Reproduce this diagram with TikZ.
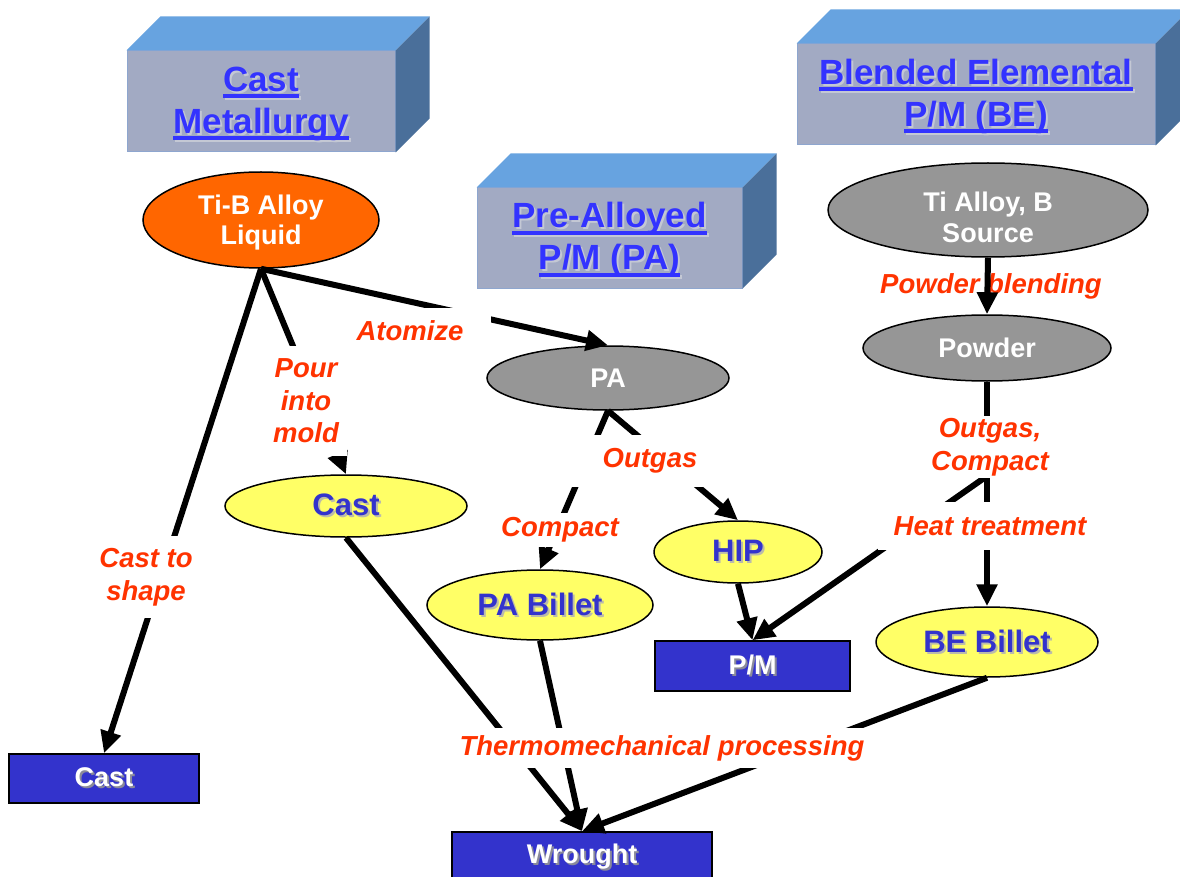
\documentclass[tikz,border=0pt]{standalone}
\usepackage{fontspec}
\setmainfont{Liberation Sans}
\usetikzlibrary{shapes.geometric,arrows.meta}

\definecolor{hdrtext}{HTML}{3333FF}
\definecolor{hdrface}{HTML}{A2AAC3}
\definecolor{hdrtop}{HTML}{67A3E0}
\definecolor{hdrside}{HTML}{4A6F9A}
\definecolor{hdredge}{HTML}{8EA6CF}
\definecolor{orangefill}{HTML}{FF6600}
\definecolor{grayfill}{HTML}{969696}
\definecolor{yellowfill}{HTML}{FFFF66}
\definecolor{bluefill}{HTML}{3333CC}
\definecolor{bluetext}{HTML}{3333CC}
\definecolor{redlabel}{HTML}{FF3300}
\definecolor{shdhdr}{HTML}{C4C8D4}
\definecolor{shdyel}{HTML}{BBBBAA}
\definecolor{shdblue}{HTML}{8A8A9A}

\newcommand\ulin[1]{\setbox0=\hbox{#1}\rlap{\rule[-7pt]{\wd0}{4pt}}\box0}
\newcommand\shd[3]{\makebox[0pt][l]{\hspace{2pt}\raisebox{-2pt}{\color{#1}#3}}{\color{#2}#3}}

\begin{document}
\begin{tikzpicture}[x=1pt,y=-1pt,
  hdr/.style={rectangle, fill=hdrface, draw=hdredge, line width=1pt, inner sep=0, align=center,
    font=\fontsize{35}{42}\selectfont\bfseries},
  ellbase/.style={ellipse, draw=black, line width=1.5pt, inner sep=0, align=center},
  orangeell/.style={ellbase, fill=orangefill, text=white, font=\fontsize{27}{30}\selectfont\bfseries},
  grayell/.style={ellbase, fill=grayfill, text=white, font=\fontsize{27}{31}\selectfont\bfseries},
  yellowell/.style={ellbase, fill=yellowfill, font=\fontsize{31}{36}\selectfont\bfseries},
  bluebox/.style={rectangle, draw=black, line width=1.5pt, fill=bluefill, inner sep=0,
    font=\fontsize{27}{32}\selectfont\bfseries},
  lbl/.style={text=redlabel, font=\fontsize{27.5}{32.5}\selectfont\bfseries\itshape, align=center, inner sep=0},
  conn/.style={line width=6pt, -{Triangle[length=22pt,width=20pt]}},
  topface/.style={fill=hdrtop},
  sideface/.style={fill=hdrside}
]
\useasboundingbox (0,0) rectangle (1180,877);
\clip (0,0) rectangle (1180,877);
\fill[white] (0,0) rectangle (1180,877);

% ---- header boxes ----
\node[hdr, minimum width=268, minimum height=101] (h1) at (261,101.5)
  {\rule{0pt}{31pt}\shd{shdhdr}{hdrtext}{\ulin{Cast}}\\\shd{shdhdr}{hdrtext}{\ulin{Metallurgy}}};
\node[hdr, minimum width=265, minimum height=100] (h2) at (609.5,238)
  {\rule{0pt}{31pt}\shd{shdhdr}{hdrtext}{\ulin{Pre-Alloyed}}\\\shd{shdhdr}{hdrtext}{\ulin{P/M (PA)}}};
\node[hdr, minimum width=358, minimum height=101] (h3) at (976,94.5)
  {\rule{0pt}{31pt}\shd{shdhdr}{hdrtext}{\ulin{Blended Elemental}}\\\shd{shdhdr}{hdrtext}{\ulin{P/M (BE)}}};
\foreach \h in {h1,h2,h3}{
  \fill[topface] (\h.north west) -- ++(34,-34) -- ([shift={(34,-34)}]\h.north east) -- (\h.north east) -- cycle;
  \fill[sideface] (\h.north east) -- ++(34,-34) -- ([shift={(34,-34)}]\h.south east) -- (\h.south east) -- cycle;
}

% ---- ellipses ----
\node[orangeell, minimum width=236, minimum height=96] (tib) at (261,220) {\rule{0pt}{24pt}Ti-B Alloy\\Liquid};
\node[grayell, minimum width=242, minimum height=64] (pa) at (608,378) {PA};
\node[grayell, minimum width=320, minimum height=94] (tia) at (988,210) {\rule{0pt}{35pt}Ti Alloy, B\\Source};
\node[grayell, minimum width=248, minimum height=66] (powder) at (987,348) {Powder};
\node[yellowell, minimum width=242, minimum height=62] (castell) at (346,506) {\shd{shdyel}{bluetext}{Cast}};
\node[yellowell, minimum width=226, minimum height=70] (pab) at (540,605) {\shd{shdyel}{bluetext}{PA Billet}};
\node[yellowell, minimum width=168, minimum height=62] (hip) at (738,552) {\shd{shdyel}{bluetext}{HIP}};
\node[yellowell, minimum width=222, minimum height=70] (beb) at (987,642) {\shd{shdyel}{bluetext}{BE Billet}};

% ---- result boxes ----
\node[bluebox, minimum width=190, minimum height=49] (castbox) at (104,778.5) {\shd{shdblue}{white}{Cast}};
\node[bluebox, minimum width=195, minimum height=50] (pm) at (752.5,666) {\shd{shdblue}{white}{P/M}};
\node[bluebox, minimum width=260, minimum height=52] (wrought) at (582,858) {\shd{shdblue}{white}{Wrought}};

\coordinate (branch) at (987,476);

% ---- label drawn under its arrow ----
\node[lbl] (lblend) at (991,286) {Powder blending};
\draw[conn] (tia.south) -- (powder.north);

% ---- connectors ----
\draw[conn] (tib.south) -- (castbox.north);
\draw[conn] (tib.south) -- (castell.north);
\draw[conn] (tib.south) -- (pa.north);
\draw[conn] (pa.south) -- (pab.north);
\draw[conn] (pa.south) -- (hip.north);
\draw[conn] (hip.south) -- (pm.north);
\draw[conn] (powder.south) -- (beb.north);
\draw[conn] (branch) -- (pm.north);
\draw[conn] (castell.south) -- (wrought.north);
\draw[conn] (pab.south) -- (wrought.north);
\draw[conn] (beb.south) -- (wrought.north);

% ---- labels with white backing ----
\node[lbl, fill=white, inner xsep=28, inner ysep=13] (latom) at (410,331) {Atomize};
\node[lbl, fill=white, inner xsep=8, inner ysep=13] (lpour) at (306,401) {Pour\\into\\mold};
\node[lbl, fill=white, inner xsep=4, inner ysep=12] (lshape) at (146,577) {Cast to\\shape};
\node[lbl, fill=white, inner xsep=32, inner ysep=14] (loutgas) at (650,461) {Outgas};
\node[lbl, fill=white, inner xsep=3, inner ysep=5] (lcompact) at (560,530) {Compact};
\node[lbl, fill=white, inner xsep=4, inner ysep=2] (loc) at (990,447) {Outgas,\\Compact};
\node[lbl, fill=white, inner xsep=16, inner ysep=14] (lheat) at (990,526) {Heat treatment};
\node[lbl, fill=white, inner xsep=6, inner ysep=7] (ltmp) at (662,748) {Thermomechanical processing};
\end{tikzpicture}
\end{document}
